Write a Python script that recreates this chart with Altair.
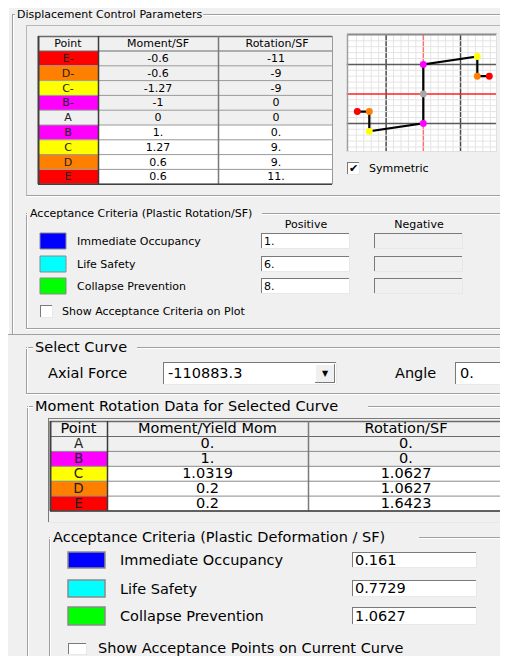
import altair as alt
import pandas as pd

# ------------------------------------------------------------------ data
points = ["E-", "D-", "C-", "B-", "A", "B", "C", "D", "E"]
moment_sf = [-0.6, -0.6, -1.27, -1, 0, 1, 1.27, 0.6, 0.6]
rotation_sf = [-11, -9, -9, 0, 0, 0, 9, 9, 11]
moment_sf_text = ["-0.6", "-0.6", "-1.27", "-1", "0", "1.", "1.27", "0.6", "0.6"]
rotation_sf_text = ["-11", "-9", "-9", "0", "0", "0.", "9.", "9.", "11."]
point_colors = {"A": "#a8a8a8", "B": "#ff00ff", "C": "#ffff00", "D": "#ff8000", "E": "#ff0000"}
cell_colors = {"A": "#f0f0f0", "B": "#ff00ff", "C": "#ffff00", "D": "#ff8000", "E": "#ff0000"}

curve_points = ["A", "B", "C", "D", "E"]
curve_moment_text = ["0.", "1.", "1.0319", "0.2", "0.2"]
curve_rotation_text = ["0.", "0.", "1.0627", "1.0627", "1.6423"]

criteria = ["Immediate Occupancy", "Life Safety", "Collapse Prevention"]
criteria_colors = ["#0000ff", "#00ffff", "#00ff00"]
positive_rotation = ["1.", "6.", "8."]
plastic_deformation = ["0.161", "0.7729", "1.0627"]
axial_force = "-110883.3"
angle_value = "0."

# ------------------------------------------------------------------ layout helpers
FONT = "DejaVu Sans"
S1 = 11      # upper dialog font size
S2 = 14.5    # lower dialog font size
BG = "#f0f0f0"
DARK = "#a0a0a0"

rects, rules, texts = [], [], []


def rect(x1, y1, x2, y2, fill, stroke="transparent", sw=0):
    rects.append(dict(x=x1, x2=x2, y=y1, y2=y2, fill=fill, stroke=stroke, sw=sw))


def hline(x1, x2, y, color, sw=1):
    rules.append(dict(x=x1, x2=x2, y=y + 0.5, y2=y + 0.5, color=color, sw=sw))


def vline(x, y1, y2, color, sw=1):
    rules.append(dict(x=x + 0.5, x2=x + 0.5, y=y1, y2=y2, color=color, sw=sw))


def text(x, y, s, size, align="left", color="#000000"):
    texts.append(dict(x=x, y=y, text=s, size=size, align=align, color=color))


def sunken(x1, y1, x2, y2, fill="#ffffff"):
    rect(x1, y1, x2, y2, fill)
    hline(x1, x2, y1, "#7a7a7a")
    vline(x1, y1, y2, "#7a7a7a")
    hline(x1, x2, y2 - 1, "#e8e8e8")
    vline(x2 - 1, y1, y2, "#e8e8e8")


def raised(x1, y1, x2, y2, fill=BG):
    rect(x1, y1, x2, y2, fill)
    hline(x1, x2, y1, "#ffffff")
    vline(x1, y1, y2, "#ffffff")
    hline(x1, x2, y2 - 1, "#7a7a7a")
    vline(x2 - 1, y1, y2, "#7a7a7a")


def group(x1, y1, x2, y2, title, gap_from, gap_to, size):
    for off, col in ((0, DARK), (1, "#ffffff")):
        hline(x1, gap_from, y1 + off, col)
        hline(gap_to, x2, y1 + off, col)
        vline(x1 + off, y1, y2, col)
        hline(x1, x2, y2 + off, col)
    text(gap_from + 2, y1 + 0.5, title, size)


def checkbox(x1, y1, x2, y2, checked=False):
    sunken(x1, y1, x2, y2, "#ffffff")
    if checked:
        text((x1 + x2) / 2, (y1 + y2) / 2 + 0.5, "\u2714", 11, "center")


# ------------------------------------------------------------------ upper dialog
rect(0, 0, 508, 334, BG)
vline(8, 0, 334, "#ffffff")
vline(12, 14, 334, DARK)
vline(13, 14, 334, "#ffffff")
hline(12, 15, 14, DARK)
hline(203, 508, 14, DARK)
hline(13, 15, 15, "#ffffff")
hline(203, 508, 15, "#ffffff")
text(17, 14.5, "Displacement Control Parameters", S1)

# inner panel
hline(26, 508, 25, "#b8b8b8")
vline(26, 25, 196, "#b8b8b8")
hline(26, 508, 195, DARK)
hline(26, 508, 196, "#ffffff")

# upper table
tx = [38, 98, 218, 332]
ty0, th, rh = 36, 15, 14.8
rect(tx[0], ty0, tx[3], ty0 + th, BG)
for i, p in enumerate(points):
    y1 = ty0 + th + i * rh
    y2 = y1 + rh
    rect(tx[0], y1, tx[1], y2, cell_colors[p[0]])
    rect(tx[1], y1, tx[3], y2, BG if i <= 4 else "#ffffff")
    text((tx[0] + tx[1]) / 2, (y1 + y2) / 2 + 0.5, p, S1, "center", "#202020")
    text((tx[1] + tx[2]) / 2, (y1 + y2) / 2 + 0.5, moment_sf_text[i], S1, "center")
    text((tx[2] + tx[3]) / 2 + 1, (y1 + y2) / 2 + 0.5, rotation_sf_text[i], S1, "center")
    hline(tx[0], tx[3], y2 - 0.5, "#9a9a9a")
text((tx[0] + tx[1]) / 2, ty0 + th / 2 + 0.5, "Point", S1, "center")
text((tx[1] + tx[2]) / 2, ty0 + th / 2 + 0.5, "Moment/SF", S1, "center")
text((tx[2] + tx[3]) / 2 + 2, ty0 + th / 2 + 0.5, "Rotation/SF", S1, "center")
hline(tx[0], tx[3], ty0, "#6a6a6a", 1.5)
hline(tx[0], tx[3], ty0 + th - 0.5, "#6a6a6a")
vline(tx[0], ty0, ty0 + th + 9 * rh, "#404040", 2)
vline(tx[1], ty0, ty0 + th + 9 * rh, "#3a3a3a", 1.5)
vline(tx[2], ty0, ty0 + th + 9 * rh, "#7a7a7a", 1.5)
vline(tx[3], ty0, ty0 + th + 9 * rh, "#9a9a9a")
hline(tx[0], tx[3], ty0 + th + 9 * rh - 0.5, "#404040", 1.5)

# plot frame (background; the plot itself is drawn with its own scales)
rect(347, 34, 497, 152, "#ffffff")

# symmetric checkbox
checkbox(347, 162, 360, 175, checked=True)
text(369, 168.5, "Symmetric", S1)

# acceptance criteria (rotation)
group(26, 213, 520, 328, "Acceptance Criteria (Plastic Rotation/SF)", 28, 262, S1)
text(306, 225, "Positive", S1, "center")
text(419, 225, "Negative", S1, "center")
sw_rows = [(233, 249), (256, 272), (278, 294)]
for i, (y1, y2) in enumerate(sw_rows):
    rect(40, y1, 66, y2, criteria_colors[i], "#8a8a8a", 1)
    text(77, (y1 + y2) / 2 + 1, criteria[i], S1)
    sunken(261, y1, 350, y2, "#ffffff")
    text(264, (y1 + y2) / 2 + 0.5, positive_rotation[i], S1)
    sunken(374, y1, 463, y2, BG)
checkbox(40, 305, 53, 318)
text(62, 311.5, "Show Acceptance Criteria on Plot", S1)

# ------------------------------------------------------------------ lower dialog
rect(7, 334, 508, 664, BG)
vline(7, 334, 664, DARK)
hline(7, 508, 334, DARK)

group(26, 347, 520, 393, "Select Curve", 33, 137, S2)
text(48, 373.5, "Axial Force", S2)
sunken(163, 362, 337, 385, "#ffffff")
text(168, 373.5, axial_force, S2)
raised(315, 364, 335, 383)
text(325, 374, "\u25bc", 8, "center")
text(395, 373.5, "Angle", S2)
sunken(455, 362, 520, 385, "#ffffff")
text(460, 373.5, angle_value, S2)

group(27, 406, 520, 700, "Moment Rotation Data for Selected Curve", 33, 368, S2)

# lower table
sunken(48, 418, 506, 523, BG)
bx = [50, 107, 308, 504]
by0, bh, brh = 421, 15.5, 14.9
rect(bx[0], by0, bx[3], by0 + bh, BG)
for i, p in enumerate(curve_points):
    y1 = by0 + bh + i * brh
    y2 = y1 + brh
    rect(bx[0], y1, bx[1], y2, cell_colors[p])
    rect(bx[1], y1, bx[3], y2, BG if i <= 1 else "#ffffff")
    text((bx[0] + bx[1]) / 2, (y1 + y2) / 2 + 0.5, p, S2 - 1, "center", "#202020")
    text((bx[1] + bx[2]) / 2, (y1 + y2) / 2 + 0.5, curve_moment_text[i], S2, "center")
    text((bx[2] + bx[3]) / 2, (y1 + y2) / 2 + 0.5, curve_rotation_text[i], S2, "center")
    hline(bx[0], bx[3], y2 - 0.5, "#8a8a8a")
text((bx[0] + bx[1]) / 2, by0 + bh / 2 + 0.5, "Point", S2, "center")
text((bx[1] + bx[2]) / 2, by0 + bh / 2 + 0.5, "Moment/Yield Mom", S2, "center")
text((bx[2] + bx[3]) / 2, by0 + bh / 2 + 0.5, "Rotation/SF", S2, "center")
hline(bx[0], bx[3], by0, "#6a6a6a", 1.5)
hline(bx[0], bx[3], by0 + bh - 0.5, "#6a6a6a")
tb = by0 + bh + 5 * brh
vline(bx[0], by0, tb, "#404040", 2)
vline(bx[1], by0, tb, "#3a3a3a", 1.5)
vline(bx[2], by0, tb, "#7a7a7a", 1.5)
vline(bx[3], by0, tb, "#9a9a9a")
hline(bx[0], bx[3], tb - 0.5, "#404040", 1.5)

# acceptance criteria (deformation)
group(49, 537, 505, 700, "Acceptance Criteria (Plastic Deformation / SF)", 51, 419, S2)
sw2_rows = [(552, 568), (580, 597), (607, 625)]
for i, (y1, y2) in enumerate(sw2_rows):
    rect(68, y1, 105, y2, criteria_colors[i], "#8a8a8a", 1.5)
    text(120, (y1 + y2) / 2 + 1, criteria[i], S2)
    sunken(352, y1, 477, y2, "#ffffff")
    text(355, (y1 + y2) / 2 + 0.5, plastic_deformation[i], S2)
checkbox(68, 643, 87, 655)
text(98, 649, "Show Acceptance Points on Current Curve", S2)

# ------------------------------------------------------------------ UI layers
UX = alt.Scale(domain=[8, 500], range=[0, 492], nice=False, zero=False)
UY = alt.Scale(domain=[8, 656], range=[0, 648], nice=False, zero=False)

rect_layer = alt.Chart(pd.DataFrame(rects)).mark_rect().encode(
    x=alt.X("x:Q", scale=UX, axis=None), x2="x2:Q",
    y=alt.Y("y:Q", scale=UY, axis=None), y2="y2:Q",
    fill=alt.Fill("fill:N", scale=None),
    stroke=alt.Stroke("stroke:N", scale=None),
    strokeWidth=alt.StrokeWidth("sw:Q", scale=None),
)

rule_layer = alt.Chart(pd.DataFrame(rules)).mark_rule().encode(
    x=alt.X("x:Q", scale=UX, axis=None), x2="x2:Q",
    y=alt.Y("y:Q", scale=UY, axis=None), y2="y2:Q",
    color=alt.Color("color:N", scale=None),
    strokeWidth=alt.StrokeWidth("sw:Q", scale=None),
)

tdf = pd.DataFrame(texts)
text_layers = []
for al in ["left", "center"]:
    sub = tdf[tdf["align"] == al]
    text_layers.append(
        alt.Chart(sub).mark_text(align=al, baseline="middle", font=FONT).encode(
            x=alt.X("x:Q", scale=UX, axis=None),
            y=alt.Y("y:Q", scale=UY, axis=None),
            text="text:N",
            size=alt.Size("size:Q", scale=None),
            color=alt.Color("color:N", scale=None),
        )
    )

# ------------------------------------------------------------------ mini plot (own scales)
XMIN, XMAX = -12.77, 12.23
YMIN, YMAX = -1.97, 2.03
PX = alt.Scale(domain=[XMIN, XMAX], range=[338.7, 488.7], nice=False, zero=False)
PY = alt.Scale(domain=[YMIN, YMAX], range=[144, 26], nice=False, zero=False)

minor_x = [k * 1.24 for k in range(-10, 10) if k % 5 != 0]
minor_y = [k * 0.2 for k in range(-9, 11) if k % 5 != 0]
major_x = [-6.2, 6.2]
major_y = [-1.0, 1.0]

vgrid = pd.DataFrame(
    [dict(x=v, y=YMIN, y2=YMAX, color="#e4e4e4", sw=1) for v in minor_x]
    + [dict(x=v, y=YMIN, y2=YMAX, color="#4a4a4a", sw=1.5) for v in major_x]
    + [dict(x=0.0, y=YMIN, y2=YMAX, color="#ff7070", sw=1.5)]
)
hgrid = pd.DataFrame(
    [dict(y=v, x=XMIN, x2=XMAX, color="#e4e4e4", sw=1) for v in minor_y]
    + [dict(y=v, x=XMIN, x2=XMAX, color="#5a5a5a", sw=1.5) for v in major_y]
    + [dict(y=0.0, x=XMIN, x2=XMAX, color="#ff2020", sw=1.5)]
)

vgrid_layer = alt.Chart(vgrid).mark_rule().encode(
    x=alt.X("x:Q", scale=PX, axis=None),
    y=alt.Y("y:Q", scale=PY, axis=None), y2="y2:Q",
    color=alt.Color("color:N", scale=None),
    strokeWidth=alt.StrokeWidth("sw:Q", scale=None),
)
hgrid_layer = alt.Chart(hgrid).mark_rule().encode(
    y=alt.Y("y:Q", scale=PY, axis=None),
    x=alt.X("x:Q", scale=PX, axis=None), x2="x2:Q",
    color=alt.Color("color:N", scale=None),
    strokeWidth=alt.StrokeWidth("sw:Q", scale=None),
)

curve = pd.DataFrame({
    "point": points,
    "moment": moment_sf,
    "rotation": rotation_sf,
    "order": list(range(len(points))),
    "color": [point_colors[p[0]] for p in points],
})
line_layer = alt.Chart(curve).mark_line(color="#000000", strokeWidth=2.2).encode(
    x=alt.X("rotation:Q", scale=PX, axis=None),
    y=alt.Y("moment:Q", scale=PY, axis=None),
    order="order:Q",
)
dot_layer = alt.Chart(curve).mark_circle(size=48, opacity=1).encode(
    x=alt.X("rotation:Q", scale=PX, axis=None),
    y=alt.Y("moment:Q", scale=PY, axis=None),
    color=alt.Color("color:N", scale=None),
)

# frame bevel of the mini plot
frame = pd.DataFrame([
    dict(x=347, x2=497, y=34.5, y2=34.5, color="#8a8a8a", sw=2),
    dict(x=347.5, x2=347.5, y=34, y2=152, color="#a0a0a0", sw=1.5),
    dict(x=347, x2=497, y=151.5, y2=151.5, color="#e0e0e0", sw=1),
    dict(x=496.5, x2=496.5, y=34, y2=152, color="#e0e0e0", sw=1),
])
frame_layer = alt.Chart(frame).mark_rule().encode(
    x=alt.X("x:Q", scale=UX, axis=None), x2="x2:Q",
    y=alt.Y("y:Q", scale=UY, axis=None), y2="y2:Q",
    color=alt.Color("color:N", scale=None),
    strokeWidth=alt.StrokeWidth("sw:Q", scale=None),
)

chart = alt.layer(
    rect_layer, rule_layer, *text_layers,
    vgrid_layer, hgrid_layer, line_layer, dot_layer, frame_layer,
).resolve_scale(
    x="independent", y="independent"
).properties(
    width=492, height=648, padding=0, autosize="none", background="#ffffff"
).configure_view(stroke=None)

chart.save("out.html", embed_options={"renderer": "svg", "actions": False})
